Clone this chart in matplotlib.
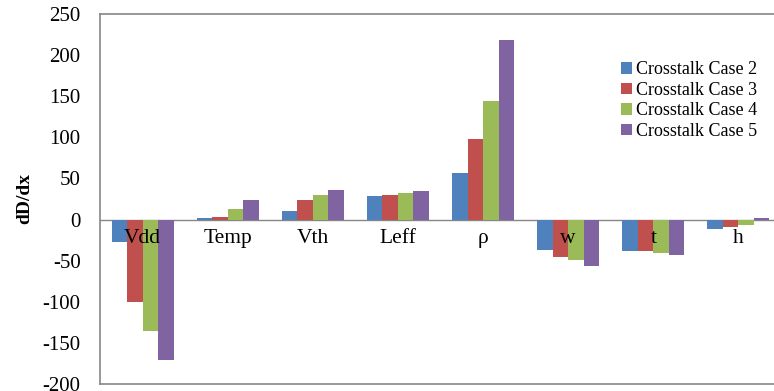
import matplotlib
matplotlib.use("Agg")
import matplotlib.pyplot as plt
import numpy as np

categories = ["Vdd", "Temp", "Vth", "Leff", "ρ", "w", "t", "h"]
series_names = ["Crosstalk Case 2", "Crosstalk Case 3", "Crosstalk Case 4", "Crosstalk Case 5"]
case2 = [-27, 1.5, 11, 29, 57, -37, -38.5, -12]
case3 = [-100, 3.3, 23.5, 30, 98, -45.5, -38.5, -8.5]
case4 = [-136, 13, 30, 32, 144, -49, -40.5, -6.5]
case5 = [-171, 23.5, 36.5, 34.5, 218.5, -57, -43.5, 2.5]
colors = ["#4F81BD", "#C0504D", "#9BBB59", "#8064A2"]
yticks = [-200, -150, -100, -50, 0, 50, 100, 150, 200, 250]

plt.rcParams['font.family'] = ['Liberation Serif', 'DejaVu Serif']

fig = plt.figure(figsize=(7.74, 3.91), dpi=100)
ax_left = 100 / 774
ax_w = 681 / 774
ax = fig.add_axes([ax_left, 1 - 384 / 391, ax_w, 370 / 391])

x = np.arange(len(categories))
w = 0.182
for i, (vals, name) in enumerate(zip([case2, case3, case4, case5], series_names)):
    ax.bar(x + (i - 1.5) * w, vals, width=w, color=colors[i], label=name, zorder=2)

ax.set_xlim(-0.5, len(categories) - 0.5)
ax.set_ylim(-200, 250)
ax.set_yticks(yticks)
ax.set_yticklabels([str(v) for v in yticks], fontsize=15)
ax.tick_params(axis='y', length=0, pad=14)
ax.set_xticks([])
ax.axhline(0, color="#868686", lw=1, zorder=1)
for s in ['top', 'bottom', 'left']:
    ax.spines[s].set_color("#868686")
    ax.spines[s].set_linewidth(1.2)
ax.spines['right'].set_visible(False)

for xi, c in zip(x, categories):
    ax.text(xi, -12, c, ha='center', va='top', fontsize=15.5, zorder=3)

ax.set_ylabel("dD/dx", fontsize=14, fontweight='bold')
ax.yaxis.set_label_coords((33 - 100) / 681, 0.5)

leg = ax.legend(loc='upper left', bbox_to_anchor=(0.755, 0.892), frameon=False,
                fontsize=13, handlelength=0.6, handleheight=0.6, handletextpad=0.2,
                labelspacing=0.2, borderaxespad=0)

fig.savefig("out.png", dpi=100)
